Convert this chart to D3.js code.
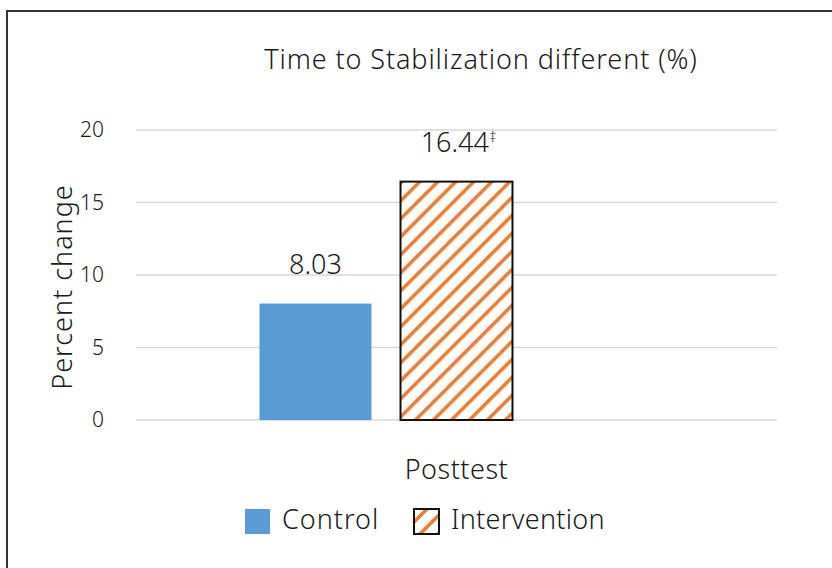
<!DOCTYPE html>
<html>
<head>
<meta charset="utf-8">
<script src="https://cdn.jsdelivr.net/npm/d3@7"></script>
<style>
  body { margin: 0; background: #fff; }
  text { font-family: "Noto Sans", "Open Sans", sans-serif; font-weight: 300; fill: #1a1a1a; }
</style>
</head>
<body>
<div id="chart"></div>
<script>
// values
var categories = ["Posttest"];
var seriesNames = ["Control", "Intervention"];
var seriesValues = [8.03, 16.44];
var valueLabels = ["8.03", "16.44"];
var valueMarks = ["", "\u2021"];
var yTicks = [0, 5, 10, 15, 20];

var W = 832, H = 568;
var plot = { left: 136, right: 777, top: 130, bottom: 420 };
var fontSize = 27;

var svg = d3.select("#chart").append("svg")
    .attr("width", W)
    .attr("height", H);

// hatch pattern for the intervention bar
var defs = svg.append("defs");
var pat = defs.append("pattern")
    .attr("id", "hatch")
    .attr("patternUnits", "userSpaceOnUse")
    .attr("width", 18)
    .attr("height", 18);
pat.append("rect").attr("width", 18).attr("height", 18).attr("fill", "#fff");
pat.append("path")
    .attr("d", "M-4.5,4.5 L4.5,-4.5 M0,18 L18,0 M13.5,22.5 L22.5,13.5")
    .attr("stroke", "#ED7D31")
    .attr("stroke-width", 3.6);

// outer frame
svg.append("rect")
    .attr("x", 7).attr("y", 11)
    .attr("width", W).attr("height", H)
    .attr("fill", "none")
    .attr("stroke", "#333")
    .attr("stroke-width", 2);

var y = d3.scaleLinear().domain([0, 20]).range([plot.bottom, plot.top]);
var x0 = d3.scaleBand().domain(categories).range([plot.left, plot.right])
    .paddingInner(0.2386).paddingOuter(0.2386);
// three slots per group (as in the original sheet), only two are used
var x1 = d3.scaleBand().domain([0, 1, 2]).range([0, x0.bandwidth()]).paddingInner(0.206);

// gridlines
svg.append("g")
    .selectAll("line")
    .data(yTicks)
    .enter().append("line")
    .attr("x1", plot.left).attr("x2", plot.right)
    .attr("y1", function(d) { return y(d); })
    .attr("y2", function(d) { return y(d); })
    .attr("stroke", "#d9d9d9")
    .attr("stroke-width", 1.5);

// y axis labels
var yAxis = svg.append("g")
    .attr("transform", "translate(" + (plot.left - 32) + ",0)")
    .call(d3.axisLeft(y).tickValues(yTicks).tickSize(0).tickPadding(0));
yAxis.select(".domain").remove();
yAxis.selectAll("text")
    .style("font-size", "21px")
    .style("font-family", "'Noto Sans', sans-serif")
    .attr("fill", "#333");

svg.append("text")
    .attr("transform", "translate(72,287) rotate(-90)")
    .attr("text-anchor", "middle")
    .style("font-size", fontSize + "px")
    .style("letter-spacing", "1px")
    .text("Percent change");

// bars
var bars = svg.append("g")
    .attr("transform", "translate(" + x0(categories[0]) + ",0)");

bars.selectAll("rect")
    .data(seriesValues)
    .enter().append("rect")
    .attr("x", function(d, i) { return x1(i); })
    .attr("y", function(d) { return y(d); })
    .attr("width", x1.bandwidth())
    .attr("height", function(d) { return y(0) - y(d); })
    .attr("fill", function(d, i) { return i === 0 ? "#5B9BD5" : "url(#hatch)"; })
    .attr("stroke", function(d, i) { return i === 0 ? "none" : "#111"; })
    .attr("stroke-width", 2);

var lbl = bars.selectAll(".lbl")
    .data(seriesValues)
    .enter().append("text")
    .attr("class", "lbl")
    .attr("x", function(d, i) { return x1(i) + x1.bandwidth() / 2 + (i === 1 ? 2 : 0); })
    .attr("y", function(d) { return y(d) - 30; })
    .attr("text-anchor", "middle")
    .style("font-size", fontSize + "px");
lbl.append("tspan").text(function(d, i) { return valueLabels[i]; });
lbl.append("tspan")
    .attr("dy", -10)
    .style("font-size", "15px")
    .text(function(d, i) { return valueMarks[i]; });

// category label
svg.append("text")
    .attr("x", x0(categories[0]) + x0.bandwidth() / 2)
    .attr("y", 479)
    .attr("text-anchor", "middle")
    .style("font-size", fontSize + "px")
    .style("letter-spacing", "0.5px")
    .text(categories[0]);

// title
svg.append("text")
    .attr("x", 481)
    .attr("y", 69)
    .attr("text-anchor", "middle")
    .style("font-size", fontSize + "px")
    .style("letter-spacing", "0.9px")
    .text("Time to Stabilization different (%)");

// legend
var legendX = [245, 414];
var leg = svg.append("g");
leg.selectAll("rect")
    .data(seriesNames)
    .enter().append("rect")
    .attr("x", function(d, i) { return legendX[i]; })
    .attr("y", 509)
    .attr("width", 25)
    .attr("height", 25)
    .attr("fill", function(d, i) { return i === 0 ? "#5B9BD5" : "url(#hatch)"; })
    .attr("stroke", function(d, i) { return i === 0 ? "none" : "#111"; })
    .attr("stroke-width", 2);
leg.selectAll("text")
    .data(seriesNames)
    .enter().append("text")
    .attr("x", function(d, i) { return legendX[i] + 37; })
    .attr("y", 529)
    .style("font-size", fontSize + "px")
    .style("letter-spacing", function(d, i) { return i === 0 ? "1px" : "0.3px"; })
    .text(function(d) { return d; });
</script>
</body>
</html>
